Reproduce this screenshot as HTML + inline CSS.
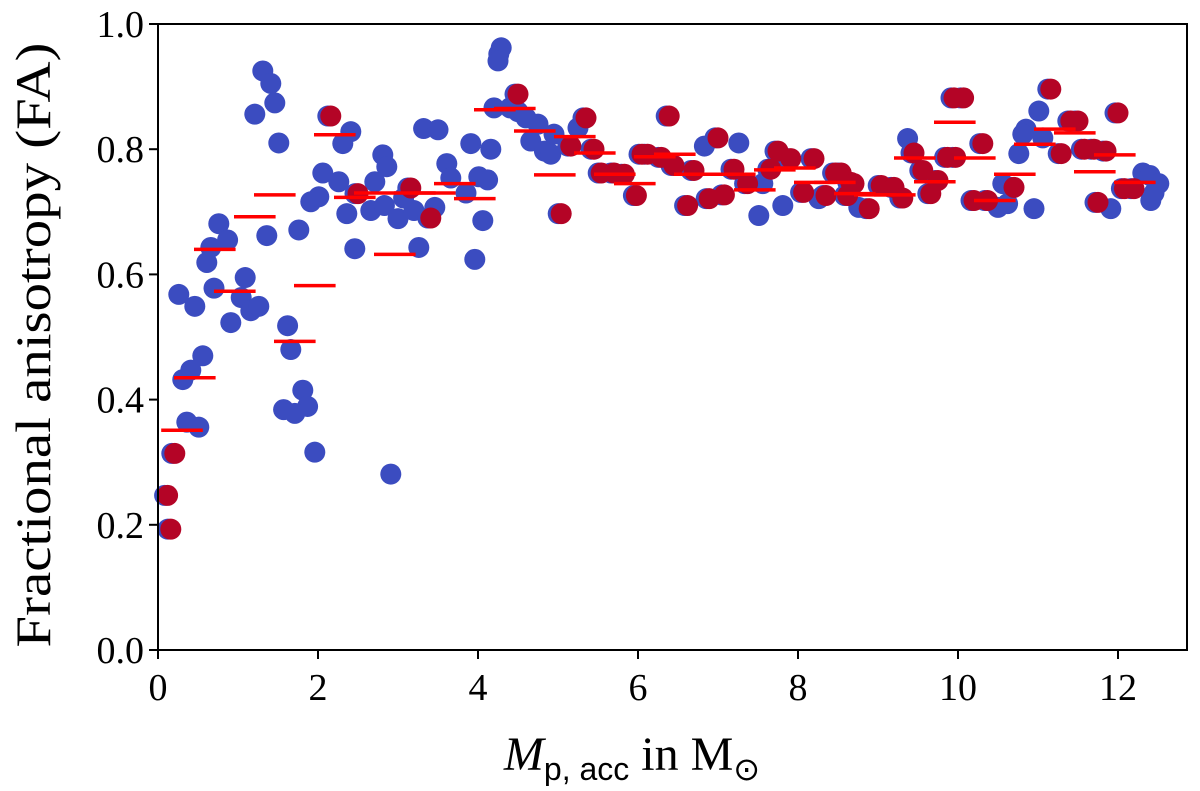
<!DOCTYPE html>
<html><head><meta charset="utf-8"><style>
body{margin:0;background:#fff;width:1200px;height:786px;overflow:hidden}
svg text{font-family:"Liberation Serif",serif}
</style></head><body>
<svg id="chart" width="1200" height="786" viewBox="0 0 1200 786" xmlns="http://www.w3.org/2000/svg">
<g id="marks"></g>
<g id="axes"></g>
<text transform="translate(50,345) rotate(-90)" text-anchor="middle" font-size="50" textLength="605" lengthAdjust="spacingAndGlyphs">Fractional anisotropy (FA)</text>
<text x="632" y="770" text-anchor="middle" font-size="48"><tspan font-style="italic">M</tspan><tspan font-family="Liberation Sans, sans-serif" font-size="32" dy="10">p, acc</tspan><tspan dy="-10"> in M</tspan><tspan font-size="32" dy="10">⊙</tspan></text>
</svg>
<script>
const blueX=[1.31,1.41,1.46,1.21,1.51,2.41,2.31,2.06,2.26,1.91,2.01,2.36,2.46,1.36,1.76,0.76,0.87,0.66,0.61,0.70,0.26,0.46,1.09,1.04,0.91,1.16,1.26,0.56,0.41,0.31,0.36,0.51,1.62,1.66,1.81,1.87,1.57,1.71,1.96,2.91,2.81,2.86,2.71,3.32,3.50,3.91,4.16,3.61,4.01,4.12,3.85,3.66,3.46,4.06,3.96,2.66,2.83,3.0,3.2,3.26,3.07,4.26,4.29,4.25,4.2,4.4,4.5,4.6,4.75,4.66,4.83,4.91,4.95,5.25,6.83,7.26,7.51,7.56,7.81,8.26,8.76,9.37,10.5,10.62,10.56,10.76,10.85,10.81,11.01,10.95,11.06,11.91,12.31,12.4,12.51,12.41,12.45];
const blueY=[0.925,0.905,0.874,0.856,0.81,0.828,0.809,0.762,0.748,0.716,0.724,0.697,0.641,0.662,0.671,0.681,0.655,0.643,0.619,0.578,0.568,0.549,0.595,0.563,0.523,0.542,0.549,0.470,0.447,0.432,0.364,0.356,0.518,0.480,0.415,0.389,0.384,0.378,0.316,0.281,0.791,0.772,0.748,0.833,0.831,0.809,0.800,0.777,0.756,0.751,0.730,0.754,0.707,0.686,0.624,0.702,0.710,0.689,0.702,0.643,0.722,0.952,0.962,0.941,0.866,0.866,0.86,0.85,0.84,0.813,0.797,0.792,0.824,0.834,0.805,0.81,0.694,0.745,0.710,0.721,0.707,0.817,0.707,0.713,0.745,0.793,0.832,0.824,0.861,0.705,0.818,0.705,0.762,0.758,0.745,0.718,0.73];
const redX=[0.21,0.12,0.16,2.16,2.5,3.16,3.41,4.5,5.35,5.16,5.45,5.54,5.7,5.83,5.98,5.04,6.05,6.12,6.29,6.45,6.7,6.39,7.0,6.62,6.89,7.08,7.2,7.37,7.66,7.75,7.91,8.2,8.07,8.35,8.47,8.66,8.62,8.54,8.7,8.89,9.04,9.2,9.31,9.45,9.56,9.75,9.66,9.87,9.97,10.07,9.95,10.31,10.2,10.37,10.7,11.16,11.29,11.41,11.5,11.58,11.7,11.85,11.75,12.0,12.08,12.2];
const redY=[0.314,0.247,0.193,0.853,0.729,0.738,0.690,0.888,0.850,0.805,0.80,0.762,0.762,0.760,0.726,0.697,0.792,0.792,0.787,0.774,0.766,0.853,0.818,0.710,0.721,0.727,0.768,0.745,0.768,0.797,0.785,0.785,0.731,0.726,0.762,0.747,0.726,0.762,0.745,0.705,0.742,0.739,0.722,0.794,0.766,0.750,0.729,0.787,0.787,0.882,0.882,0.809,0.718,0.718,0.739,0.896,0.793,0.845,0.845,0.800,0.800,0.797,0.715,0.858,0.737,0.737];
const barX=[0.30,0.46,0.71,0.96,1.21,1.46,1.71,1.96,2.21,2.46,2.71,2.96,3.21,3.46,3.71,3.96,4.21,4.46,4.71,4.96,5.21,5.46,5.71,5.96,6.21,6.46,6.71,6.96,7.21,7.46,7.71,7.96,8.21,8.46,8.71,8.96,9.21,9.46,9.71,9.96,10.21,10.46,10.71,10.96,11.21,11.46,11.71,11.96,12.21];
const barY=[0.351,0.435,0.640,0.573,0.692,0.727,0.493,0.582,0.823,0.723,0.730,0.632,0.730,0.730,0.745,0.721,0.863,0.865,0.829,0.759,0.820,0.794,0.760,0.745,0.788,0.792,0.760,0.760,0.760,0.735,0.767,0.770,0.747,0.747,0.729,0.727,0.727,0.786,0.748,0.843,0.786,0.718,0.760,0.808,0.832,0.826,0.764,0.791,0.747];
const xTicks=[0,2,4,6,8,10,12];
const yTicks=[0.0,0.2,0.4,0.6,0.8,1.0];
const L=158,R=1187,T=24,B=650;
const sx=v=>L+v*80, sy=v=>B-v*(B-T);
const NS="http://www.w3.org/2000/svg";
const marks=document.getElementById('marks'), axes=document.getElementById('axes');
function mk(tag,attrs,parent){const e=document.createElementNS(NS,tag);for(const k in attrs)e.setAttribute(k,attrs[k]);parent.appendChild(e);return e;}
for(let i=0;i<blueX.length;i++){const c=mk('circle',{cx:sx(blueX[i]),cy:sy(blueY[i]),r:10.5,fill:'#3b4cc0'},marks);

}
for(let i=0;i<redX.length;i++){const u=mk('circle',{cx:sx(redX[i])-3,cy:sy(redY[i]),r:10.5,fill:'#3b4cc0'},marks);

}
for(let i=0;i<redX.length;i++){const c=mk('circle',{cx:sx(redX[i]),cy:sy(redY[i]),r:10.5,fill:'#b40426'},marks);

}
for(let i=0;i<barX.length;i++){const l=mk('line',{x1:sx(barX[i]-0.26),x2:sx(barX[i]+0.26),y1:sy(barY[i]),y2:sy(barY[i]),stroke:'#ff0000','stroke-width':3.5},marks);

}
const fr=mk('rect',{x:L,y:T,width:R-L,height:B-T,fill:'none',stroke:'#000','stroke-width':2},axes);


xTicks.forEach(v=>{const t=mk('line',{x1:sx(v),x2:sx(v),y1:B,y2:B+9,stroke:'#000','stroke-width':2},axes);


const s=mk('text',{x:sx(v),y:B+50,'text-anchor':'middle','font-size':38},axes);s.textContent=v;

});
yTicks.forEach(v=>{const t=mk('line',{x1:L-9,x2:L,y1:sy(v),y2:sy(v),stroke:'#000','stroke-width':2},axes);


const s=mk('text',{x:L-14,y:sy(v)+13,'text-anchor':'end','font-size':38},axes);s.textContent=v.toFixed(1);

});
</script>
</body></html>
